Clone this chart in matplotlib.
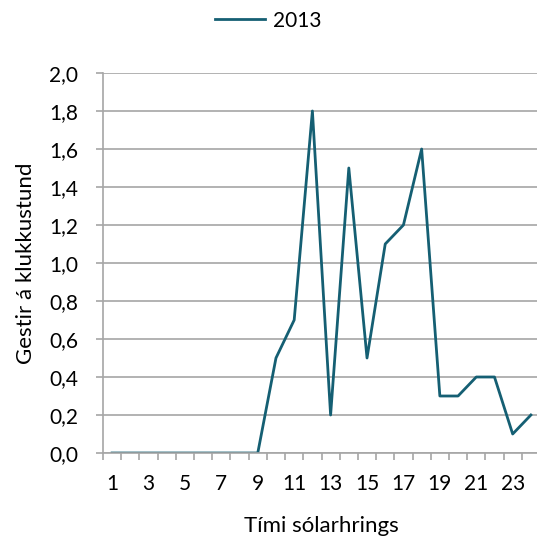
import matplotlib.pyplot as plt
from matplotlib.ticker import FuncFormatter, MultipleLocator

plt.rcParams['font.family'] = ['Lato', 'DejaVu Sans']

hours = list(range(1, 25))
visitors = [0, 0, 0, 0, 0, 0, 0, 0, 0, 0.5, 0.7, 1.8, 0.2, 1.5, 0.5, 1.1,
            1.2, 1.6, 0.3, 0.3, 0.4, 0.4, 0.1, 0.2]
series_label = '2013'
xlabels = [str(h) for h in range(1, 24, 2)]

fig = plt.figure(figsize=(5.37, 5.47), dpi=100)
ax = fig.add_axes([103 / 537, 94 / 547, 437 / 537, 380 / 547])

line_color = '#155F73'
grid_color = '#A6A6A6'
ax.plot(hours, visitors, color=line_color, lw=2, label=series_label)

ax.set_xlim(0.5, 24.5)
ax.set_ylim(0, 2.0)
ax.yaxis.set_major_locator(MultipleLocator(0.2))
ax.yaxis.set_major_formatter(FuncFormatter(lambda v, p: f'{v:.1f}'.replace('.', ',')))
ax.set_xticks(range(1, 24, 2))
ax.set_xticklabels(xlabels)
ax.set_xticks([h + 0.5 for h in range(0, 25)], minor=True)
ax.tick_params(axis='x', which='major', length=0, labelsize=15, pad=15)
ax.tick_params(axis='x', which='minor', length=5, color=grid_color, width=1.2)
ax.tick_params(axis='y', length=5, color=grid_color, width=1.2, labelsize=15, pad=13)

ax.grid(axis='y', color=grid_color, lw=1.2)
ax.set_axisbelow(True)
for s in ['top', 'right']:
    ax.spines[s].set_visible(False)
for s in ['left', 'bottom']:
    ax.spines[s].set_color(grid_color)
    ax.spines[s].set_linewidth(1.2)

ax.set_xlabel('Tími sólarhrings', fontsize=16, labelpad=16)
ax.set_ylabel('Gestir á klukkustund', fontsize=16, labelpad=9)

fig.legend(loc='upper center', bbox_to_anchor=(0.5, 1.015), frameon=False,
           fontsize=15, handlelength=2.4, handletextpad=0.4)

fig.savefig('out.png', dpi=100)
